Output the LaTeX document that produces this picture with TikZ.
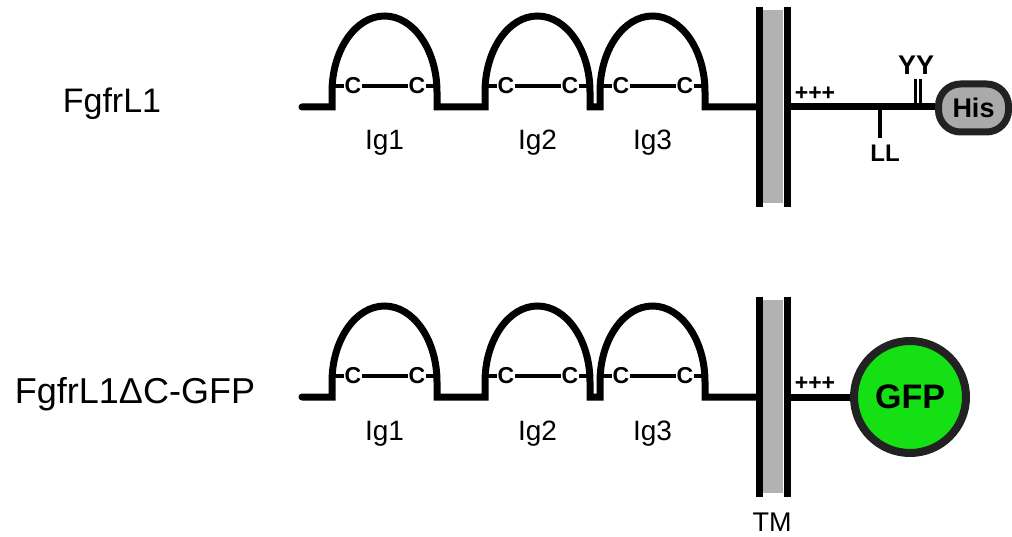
\documentclass[tikz,border=0pt]{standalone}
\usepackage{fontspec}
\setmainfont{Liberation Sans}
\definecolor{tmgray}{RGB}{178,178,178}
\definecolor{hisgray}{RGB}{170,170,170}
\definecolor{gfpgreen}{RGB}{20,224,20}
\definecolor{rim}{RGB}{34,34,34}
\begin{document}
\begin{tikzpicture}[x=1pt,y=1pt,
  chain/.style={line width=7pt, black},
  ccline/.style={line width=4pt, black},
  cys/.style={font=\fontsize{23}{23}\selectfont\bfseries, fill=white, inner sep=0.8pt},
  domlbl/.style={font=\fontsize{28}{28}\selectfont, anchor=base},
  rowlbl/.style={font=\fontsize{34}{34}\selectfont, anchor=base},
  tagbold/.style={font=\fontsize{23}{23}\selectfont\bfseries, inner sep=0pt},
  tmbar/.style={line width=7pt, black},
  tick/.style={line width=3.5pt, black},
  hisbox/.style={draw=rim, fill=hisgray, line width=7pt, rounded corners=22pt,
    minimum width=70pt, minimum height=48pt, inner sep=0pt,
    font=\fontsize{27}{27}\selectfont\bfseries},
  gfpball/.style={circle, draw=rim, fill=gfpgreen, line width=8pt,
    minimum size=112pt, inner sep=0pt, font=\fontsize{34}{34}\selectfont\bfseries}
]
\useasboundingbox (0,0) rectangle (1012,536);
\clip (0,0) rectangle (1012,536);

% common part of both rows
\foreach \B/\r in {429/a,139/b}{
  \draw[chain, line cap=round] (302,\B) -- (332,\B) -- (332,\B+15)
     arc[start angle=180, end angle=0, x radius=52.5pt, y radius=76pt] -- (437,\B)
     -- (485,\B) -- (485,\B+15)
     arc[start angle=180, end angle=0, x radius=52.5pt, y radius=76pt] -- (590,\B)
     -- (600,\B) -- (600,\B+15)
     arc[start angle=180, end angle=0, x radius=52.5pt, y radius=76pt] -- (705,\B)
     -- (756,\B);
  \foreach \l/\k in {332/1,485/2,600/3}{
    \coordinate (legL\k\r) at (\l,\B+21);
    \coordinate (legR\k\r) at (\l+105,\B+21);
    \draw[ccline] (legL\k\r) -- (legR\k\r);
    \node[cys] (cysL\k\r) at (\l+21,\B+21) {C};
    \node[cys] (cysR\k\r) at (\l+85,\B+21) {C};
    \node[domlbl] (ig\k\r) at (\l+52.5,\B-43) {Ig\k};
  }
  % transmembrane segment
  \fill[tmgray] (763,\B+97) rectangle (783,\B-96);
  \draw[tmbar] (759.5,\B+100) -- (759.5,\B-100);
  \draw[tmbar] (787,\B+100) -- (787,\B-100);
  \coordinate (tmR\r) at (790.5,\B);
  \node[tagbold] (plus\r) at (815,\B+13) {+++};
}

% row labels
\node[rowlbl] (rowa) at (112,423) {FgfrL1};
\node[rowlbl, font=\fontsize{36}{36}\selectfont] (rowb) at (135,133) {FgfrL1ΔC-GFP};

% top row tail
\node[hisbox] (his) at (973.5,428) {His};
\draw[chain] (tmRa) -- (790.5,429) -- (his.west |- 0,429);
\coordinate (llA) at (880,429);
\coordinate (llB) at (880,398);
\draw[tick] (llA) -- (llB);
\node[tagbold, font=\fontsize{24}{24}\selectfont\bfseries] (ll) at (885,382.5) {LL};
\coordinate (yy1a) at (915,429);
\coordinate (yy1b) at (915,457);
\coordinate (yy2a) at (920.5,429);
\coordinate (yy2b) at (920.5,457);
\draw[line width=3pt] (yy1a) -- (yy1b);
\draw[line width=3pt] (yy2a) -- (yy2b);
\node[tagbold, font=\fontsize{27}{27}\selectfont\bfseries] (yy) at (916,470.5) {YY};

% bottom row tail
\node[gfpball] (gfp) at (910,139) {GFP};
\draw[chain] (tmRb) -- (gfp.west);
\node[font=\fontsize{27}{27}\selectfont] (tm) at (772,14) {TM};
\end{tikzpicture}
\end{document}
